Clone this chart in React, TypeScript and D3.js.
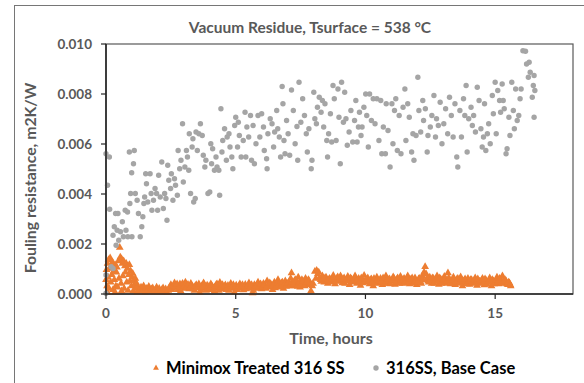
import React from 'react';
import * as d3 from 'd3';

// 316SS base case: [time h, fouling resistance m2K/W]
const baseCase: [number, number][] = [
  [0, .00561], [0.06, .00435], [0.13, .00548], [0.14, .00339], [0.2, .00109], [0.27, .00102], [0, .00076], [0, .00003],
  [0.32, .00269], [0.27, .00235], [0.37, .00322], [0.46, .00322], [0.43, .00255], [0.39, .00195], [0.49, .00215],
  [0.56, .00249], [0.63, .00289], [0.67, .00229], [0.77, .00255], [0.84, .00229], [0.74, .00335], [0.83, .00328],
  [0.92, .00362], [1.0, .00229], [0.95, .00402], [0.9, .00568], [1.09, .00574], [1.06, .00521], [0.99, .00485],
  [1.13, .00402], [1.2, .00375], [1.25, .00322], [1.32, .00229], [1.38, .00269], [1.42, .00309], [1.46, .00362],
  [1.49, .00388], [1.53, .00481], [1.56, .00441], [1.61, .00368], [1.7, .00481], [1.74, .00402], [1.77, .00335],
  [1.83, .00375], [1.89, .00422], [1.95, .00402], [1.99, .00335], [2.03, .00475], [2.09, .00388], [2.15, .00528],
  [2.21, .00342], [2.26, .00402], [2.31, .00382], [2.35, .00295], [2.38, .00515], [2.42, .00455], [2.49, .00422],
  [2.52, .00481], [2.58, .00375], [2.64, .00461], [2.68, .00435], [2.75, .00395], [2.84, .00501], [2.78, .00574],
  [2.89, .00535], [2.95, .00681], [2.98, .00448], [3.04, .00508], [3.1, .00574], [3.14, .00548], [3.19, .00495],
  [3.21, .00641], [3.26, .00402], [3.32, .00588], [3.35, .00621], [3.38, .00368], [3.44, .00382], [3.47, .00648],
  [3.52, .00574], [3.58, .00641], [3.64, .00681], [3.71, .00634], [3.75, .00555], [3.81, .00508], [3.85, .00535],
  [3.93, .00402], [4.0, .00408], [4.04, .00601], [4.07, .00521], [4.11, .00581], [4.18, .00495], [4.24, .00548],
  [4.28, .00508], [4.35, .00495], [4.38, .00395], [4.43, .00741], [4.47, .00568], [4.5, .00614], [4.57, .00661],
  [4.64, .00535], [4.67, .00628], [4.74, .00641], [4.78, .00588], [4.85, .00548], [4.89, .00501], [4.96, .00674],
  [5.0, .00707], [5.07, .00588], [5.1, .00687], [5.14, .00634], [5.21, .00548], [5.29, .00614], [5.36, .00727],
  [5.39, .00548], [5.43, .00668], [5.5, .00628], [5.57, .00714], [5.61, .00535], [5.67, .00674], [5.72, .00521],
  [5.78, .00601], [5.86, .00714], [5.93, .00628], [6.0, .00721], [6.07, .00668], [6.1, .00574], [6.19, .00541],
  [6.21, .00501], [6.24, .00641], [6.33, .00701], [6.4, .00681], [6.46, .00588], [6.5, .00648], [6.58, .00734],
  [6.62, .00661], [6.68, .00628], [6.73, .00548], [6.79, .0083], [6.82, .00761], [6.86, .00614], [6.9, .00561],
  [6.96, .00694], [7.02, .00641], [7.08, .00555], [7.15, .00816], [7.22, .00734], [7.29, .00601], [7.36, .0067],
  [7.39, .00535], [7.44, .00847], [7.51, .00687], [7.58, .00781], [7.65, .00714], [7.72, .00641], [7.76, .00568],
  [7.82, .00661], [7.91, .00501], [7.94, .00535], [8.01, .00807], [8.05, .00701], [8.11, .00681], [8.15, .00747],
  [8.22, .00787], [8.29, .00727], [8.34, .00774], [8.39, .00668], [8.44, .00761], [8.51, .00614], [8.54, .00548],
  [8.58, .00641], [8.65, .00721], [8.7, .00608], [8.75, .00834], [8.8, .00781], [8.87, .00614], [8.94, .0082],
  [8.98, .00707], [9.03, .00521], [9.08, .00847], [9.15, .00687], [9.2, .00807], [9.25, .00701], [9.3, .00595],
  [9.37, .00648], [9.44, .00734], [9.51, .00608], [9.58, .00694], [9.63, .00774], [9.68, .00608], [9.73, .00668],
  [9.77, .00727], [9.83, .00634], [9.87, .00668], [9.94, .00747], [10.01, .008], [10.05, .00714], [10.11, .00588],
  [10.16, .008], [10.23, .00694], [10.3, .00781], [10.37, .00681], [10.44, .00781], [10.52, .00614], [10.59, .00774],
  [10.63, .00561], [10.69, .00668], [10.77, .00561], [10.8, .00761], [10.87, .00654], [10.95, .00508], [11.02, .00761],
  [11.06, .00601], [11.12, .00734], [11.17, .00781], [11.23, .00574], [11.3, .00714], [11.37, .00561], [11.45, .00747],
  [11.52, .0082], [11.56, .00614], [11.63, .00761], [11.69, .00707], [11.78, .00568], [11.83, .00641], [11.87, .00535],
  [11.95, .00634], [12.02, .00867], [12.06, .00734], [12.13, .00648], [12.21, .00774], [12.24, .00694], [12.31, .00741],
  [12.38, .00568], [12.41, .00634], [12.5, .00668], [12.56, .00714], [12.64, .00794], [12.7, .00628], [12.74, .00701],
  [12.81, .00674], [12.88, .00767], [12.95, .00601], [13.02, .00681], [13.09, .00741], [13.17, .00641], [13.24, .00787],
  [13.31, .00714], [13.38, .00628], [13.45, .00761], [13.52, .00548], [13.56, .00508], [13.64, .00734], [13.7, .00628],
  [13.78, .00781], [13.83, .00714], [13.88, .00834], [13.92, .00568], [13.98, .00701], [14.07, .00747], [14.12, .00674],
  [14.17, .00714], [14.24, .00648], [14.31, .00827], [14.38, .00774], [14.45, .00661], [14.5, .00588], [14.55, .00628],
  [14.59, .00761], [14.64, .00574], [14.7, .00641], [14.75, .00681], [14.81, .00601], [14.89, .00794], [14.93, .00721],
  [15.0, .00847], [15.04, .00641], [15.1, .00814], [15.17, .00774], [15.21, .00727], [15.27, .0084], [15.31, .00774],
  [15.35, .00741], [15.42, .00561], [15.46, .00581], [15.53, .00707], [15.57, .00634], [15.64, .00847], [15.7, .00734],
  [15.74, .00661], [15.79, .0082], [15.85, .00694], [15.91, .00714], [15.96, .00781], [16.0, .0082], [16.07, .00973],
  [16.17, .00971], [16.21, .0092], [16.31, .00927], [16.28, .00867], [16.35, .00887], [16.43, .00787], [16.47, .00834],
  [16.5, .00874], [16.53, .00814], [16.5, .00707],
];

// Minimox treated 316 SS: [time h, fouling resistance m2K/W]
const minimox: [number, number][] = [
  [0.0, .00055], [0.02, .00095], [0.04, .0003], [0.05, .00005], [0.06, .0012], [0.08, .00065], [0.1, .00135], [0.12, .0002],
  [0.14, .001], [0.16, .00142], [0.18, .00045], [0.2, .0011], [0.22, .00075], [0.25, .00125], [0.27, .00015], [0.3, .0009],
  [0.32, .00055], [0.35, .00115], [0.35, .00005], [0.38, .0003], [0.4, .00085], [0.42, .00105], [0.45, .00025], [0.48, .0013],
  [0.5, .0006], [0.53, .00184], [0.55, .00145], [0.58, .0004], [0.6, .00138], [0.6, .0001], [0.63, .0012], [0.65, .0007],
  [0.68, .0013], [0.7, .0002], [0.73, .0011], [0.75, .00085], [0.78, .0012], [0.8, .00045], [0.83, .001], [0.85, .00012],
  [0.88, .00075], [0.9, .00115], [0.93, .0005], [0.95, .0009], [0.98, .0003], [1.0, .00065], [1.03, .0008], [1.05, .0001],
  [1.08, .0005], [1.1, .00035], [1.13, .0006], [1.15, .0002], [1.18, .0004], [1.2, .00005], [1.23, .00025],
  [1.3, .00015], [1.35, .00025], [1.4, .0001], [1.45, .0003], [1.5, .00005], [1.55, .0002], [1.6, .00012], [1.65, .00028],
  [1.7, .00008], [1.75, .00018], [1.8, .00022], [1.85, .00005], [1.9, .00015], [1.95, .00025], [2.0, .0001], [2.05, .0002],
  [2.1, .00005], [2.15, .00015], [2.2, .00022], [2.25, .00008], [2.3, .00018], [2.35, .00004], [2.4, .00012], [2.45, .00025],
  [2.5, .00035], [2.57, .0002], [2.64, .00042], [2.71, .00028], [2.78, .00015], [2.85, .00038], [2.92, .0003], [2.99, .00022],
  [3.06, .00045], [3.13, .00032], [3.2, .00018], [3.27, .0004], [3.34, .00027], [3.41, .00012], [3.48, .00035], [3.55, .00025],
  [3.62, .00005], [3.69, .0003], [3.76, .00042], [3.83, .0002], [3.9, .00033], [3.97, .00015], [4.04, .00038], [4.11, .00026],
  [4.18, .0001], [4.25, .00036], [4.32, .00022], [4.39, .00044], [4.46, .0003], [4.53, .00018], [4.6, .00034], [4.67, .00025],
  [4.74, .00012], [4.81, .0004], [4.88, .00028], [4.95, .00005], [5.02, .00033], [5.09, .0002], [5.16, .00038], [5.23, .00027],
  [5.3, .00014], [5.37, .00036], [5.44, .00024], [5.51, .00042], [5.58, .0003], [5.65, .00002], [5.72, .00035], [5.79, .00022],
  [5.86, .00045], [5.93, .0003], [6.0, .00018], [6.07, .0004], [6.14, .00028], [6.21, .0005], [6.28, .00025], [6.35, .00038],
  [6.42, .00015], [6.49, .00045], [6.56, .00032], [6.63, .00055], [6.7, .00028], [6.77, .00042], [6.84, .0002], [6.91, .0005],
  [6.98, .00035], [7.05, .00045], [7.12, .0006], [7.15, .00082], [7.2, .0003], [7.27, .00052], [7.34, .0004], [7.41, .00065],
  [7.48, .00025], [7.55, .00055], [7.62, .00042], [7.69, .0006], [7.76, .00035], [7.83, .0005], [7.9, .0001], [7.95, .0003],
  [8.05, .00088], [8.12, .00092], [8.2, .00085], [8.27, .00055], [8.34, .0007], [8.41, .00045], [8.48, .00065], [8.55, .0004],
  [8.62, .0006], [8.69, .0005], [8.76, .00072], [8.83, .00038], [8.9, .0006], [8.97, .00048], [9.04, .0007], [9.11, .00042],
  [9.18, .00062], [9.25, .0005], [9.32, .00068], [9.39, .00035], [9.46, .00058], [9.53, .00045], [9.6, .0007], [9.67, .0004],
  [9.74, .0006], [9.81, .00032], [9.88, .00055], [9.95, .00072], [10.02, .00045], [10.09, .00062], [10.16, .00038], [10.23, .00058],
  [10.3, .0003], [10.37, .0005], [10.44, .00065], [10.51, .00042], [10.58, .0006], [10.65, .00035], [10.72, .00055], [10.79, .0007],
  [10.86, .0004], [10.93, .00058], [11.0, .00048], [11.07, .00066], [11.14, .00036], [11.21, .00056], [11.28, .00045], [11.35, .00068],
  [11.42, .0004], [11.49, .0006], [11.56, .0005], [11.63, .0007], [11.7, .00038], [11.77, .00055], [11.84, .00045], [11.91, .00062],
  [11.98, .00035], [12.05, .00058], [12.12, .00048], [12.19, .0007], [12.26, .00085], [12.3, .00107], [12.34, .00078], [12.41, .0005],
  [12.48, .00065], [12.55, .0004], [12.62, .0006], [12.69, .00048], [12.76, .0007], [12.83, .00036], [12.9, .00058], [12.97, .00045],
  [13.04, .00068], [13.11, .0004], [13.18, .00082], [13.25, .00055], [13.32, .00042], [13.39, .00065], [13.46, .00035], [13.53, .00058],
  [13.6, .00046], [13.67, .00066], [13.74, .0003], [13.81, .00052], [13.88, .00044], [13.95, .0006], [14.02, .00036], [14.09, .00055],
  [14.16, .00042], [14.23, .00062], [14.3, .00032], [14.37, .0005], [14.44, .0004], [14.51, .0006], [14.58, .00034], [14.65, .00052],
  [14.72, .00044], [14.79, .00062], [14.86, .0003], [14.93, .0005], [15.0, .00042], [15.07, .00065], [15.14, .00038], [15.21, .00055],
  [15.28, .0007], [15.35, .0004], [15.42, .0005], [15.49, .00035], [15.55, .00042], [15.6, .0003],
  // interleaved readings
  [2.53, .00015], [2.6, .0003], [2.67, .00025], [2.74, .00038], [2.81, .00022], [2.88, .0001], [2.95, .0004], [3.02, .00028],
  [3.09, .0002], [3.16, .00036], [3.23, .00025], [3.3, .00032], [3.37, .00018], [3.44, .0003], [3.51, .00022], [3.58, .00038],
  [3.65, .00015], [3.72, .00025], [3.79, .00035], [3.86, .00012], [3.93, .00028], [4.0, .00022], [4.07, .00032], [4.14, .00015],
  [4.21, .00028], [4.28, .00038], [4.35, .00012], [4.42, .00025], [4.49, .00035], [4.56, .00028], [4.63, .00015], [4.7, .00032],
  [4.77, .00022], [4.84, .0002], [4.91, .00035], [4.98, .00025], [5.05, .00015], [5.12, .0003], [5.19, .00022], [5.26, .00035],
  [5.33, .00025], [5.4, .00018], [5.47, .0003], [5.54, .0002], [5.61, .00035], [5.68, .00012], [5.75, .00028], [5.82, .00035],
  [5.89, .0002], [5.96, .00038], [6.03, .00025], [6.1, .00032], [6.17, .0002], [6.24, .00035], [6.31, .00042], [6.38, .00028],
  [6.45, .00035], [6.52, .00022], [6.59, .0004], [6.66, .00035], [6.73, .00025], [6.8, .00045], [6.87, .00035], [6.94, .00028],
  [7.01, .0004], [7.08, .0003], [7.17, .00045], [7.24, .00038], [7.31, .00055], [7.38, .00028], [7.45, .00045], [7.52, .00035],
  [7.59, .0005], [7.66, .0003], [7.73, .00045], [7.8, .00055], [7.87, .00035], [7.98, .0004], [8.09, .0006], [8.16, .00078],
  [8.23, .00062], [8.3, .00048], [8.37, .00058], [8.44, .00062], [8.51, .00052], [8.58, .00055], [8.65, .00045], [8.72, .00058],
  [8.79, .00052], [8.86, .0005], [8.93, .00066], [9.0, .00055], [9.07, .00052], [9.14, .00058], [9.21, .0004], [9.28, .00056],
  [9.35, .0005], [9.42, .00062], [9.49, .0005], [9.56, .00055], [9.63, .00048], [9.7, .00052], [9.77, .00045], [9.84, .00062],
  [9.91, .00042], [9.98, .0005], [10.05, .00055], [10.12, .00048], [10.19, .00055], [10.26, .00045], [10.33, .0006], [10.4, .0004],
  [10.47, .00055], [10.54, .0005], [10.61, .00045], [10.68, .00062], [10.75, .0004], [10.82, .0005], [10.89, .00055], [10.96, .00038],
  [11.03, .00052], [11.1, .0006], [11.17, .00045], [11.24, .00062], [11.31, .0004], [11.38, .00052], [11.45, .00055], [11.52, .00042],
  [11.59, .0006], [11.66, .00048], [11.73, .00056], [11.8, .00062], [11.87, .0004], [11.94, .0005], [12.01, .00045], [12.08, .0006],
  [12.15, .0004], [12.22, .00055], [12.37, .0006], [12.44, .00045], [12.51, .00055], [12.58, .00062], [12.65, .0004], [12.72, .00055],
  [12.79, .0005], [12.86, .00062], [12.93, .0004], [13.0, .00052], [13.07, .00058], [13.14, .00048], [13.21, .00062], [13.28, .00038],
  [13.35, .00052], [13.42, .00055], [13.49, .00045], [13.56, .0006], [13.63, .0004], [13.7, .00055], [13.77, .00048], [13.84, .00058],
  [13.91, .00038], [13.98, .0005], [14.05, .00055], [14.12, .00045], [14.19, .00052], [14.26, .0004], [14.33, .00058], [14.4, .00048],
  [14.47, .00052], [14.54, .00042], [14.61, .00058], [14.68, .00036], [14.75, .0005], [14.82, .00045], [14.89, .00055], [14.96, .00038],
  [15.03, .00052], [15.1, .00045], [15.17, .0006], [15.24, .00042], [15.31, .0005], [15.38, .00055], [15.45, .00038], [15.52, .00045],
  [15.58, .00035],
];

const xTicks = [0, 5, 10, 15];
const yTicks = [0, 0.002, 0.004, 0.006, 0.008, 0.01];

const W = 584;
const H = 383;
const margin = { top: 44, right: 11, bottom: 89, left: 106 };
const FONT = 'Lato, "Open Sans", sans-serif';
const ORANGE = '#ED7D31';
const GRAY = '#A5A5A5';
const TXT = '#595959';

const App: React.FC = () => {
  const x = d3.scaleLinear().domain([0, 18]).range([margin.left, W - margin.right]);
  const y = d3.scaleLinear().domain([0, 0.01]).range([H - margin.bottom, margin.top]);
  const tri = d3.symbol().type(d3.symbolTriangle).size(26)() as string;
  const triSmall = d3.symbol().type(d3.symbolTriangle).size(15)() as string;
  const fmt = d3.format('.3f');

  const x0 = x(0);
  const x1 = x(18);
  const y0 = y(0);
  const y1 = y(0.01);

  return (
    <svg width={W} height={H} style={{ position: 'absolute', left: 0, top: 0, background: '#fff' }} fontFamily={FONT}>
      {/* chart frame */}
      <rect x={14.5} y={5.5} width={620} height={420} fill="#fff" stroke="#767676" strokeWidth={1} />

      <text x={310} y={33} textAnchor="middle" fontSize={15.5} fontWeight="bold" fill={TXT}>
        Vacuum Residue, Tsurface = 538 °C
      </text>

      {/* plot area */}
      <rect x={x0} y={y1} width={x1 - x0} height={y0 - y1} fill="none" stroke="#595959" strokeWidth={1.2} />

      {minimox.map(([t, r], i) => (
        <path key={'m' + i} d={tri} transform={`translate(${x(t)},${y(r) - 0.5})`} fill={ORANGE} />
      ))}
      {baseCase.map(([t, r], i) => (
        <circle key={'b' + i} cx={x(t)} cy={y(r)} r={2.7} fill={GRAY} />
      ))}

      {/* y axis */}
      <line x1={x0} x2={x0} y1={y1} y2={y0} stroke="#262626" strokeWidth={1.6} />
      {yTicks.map(v => (
        <g key={'y' + v}>
          <line x1={x0 - 5} x2={x0} y1={y(v)} y2={y(v)} stroke="#262626" strokeWidth={1.2} />
          <text x={x0 - 14} y={y(v)} dy="0.35em" textAnchor="end" fontSize={13.5} fontWeight="bold" fill={TXT}>
            {fmt(v)}
          </text>
        </g>
      ))}

      {/* x axis */}
      <line x1={x0} x2={x1} y1={y0} y2={y0} stroke="#262626" strokeWidth={1.4} />
      {xTicks.map(v => (
        <g key={'x' + v}>
          <line x1={x(v)} x2={x(v)} y1={y0} y2={y0 + 5} stroke="#262626" strokeWidth={1.2} />
          <text x={x(v)} y={313} dy="0.35em" textAnchor="middle" fontSize={13.5} fontWeight="bold" fill={TXT}>
            {v}
          </text>
        </g>
      ))}

      <text x={331} y={344} textAnchor="middle" fontSize={16} fontWeight="bold" fill={TXT}>
        Time, hours
      </text>
      <text
        transform={`translate(36,${(y0 + y1) / 2 + 9}) rotate(-90)`}
        textAnchor="middle"
        fontSize={15.8}
        fontWeight="bold"
        fill={TXT}
      >
        Fouling resistance, m2K/W
      </text>

      {/* legend */}
      <path d={triSmall} transform="translate(156,368)" fill={ORANGE} />
      <text x={166} y={368} dy="0.35em" fontSize={16.5} fontWeight="bold" fill="#000">
        Minimox Treated 316 SS
      </text>
      <circle cx={376} cy={368} r={2.7} fill={GRAY} />
      <text x={386} y={368} dy="0.35em" fontSize={16.5} fontWeight="bold" fill="#000">
        316SS, Base Case
      </text>
    </svg>
  );
};

export default App;
